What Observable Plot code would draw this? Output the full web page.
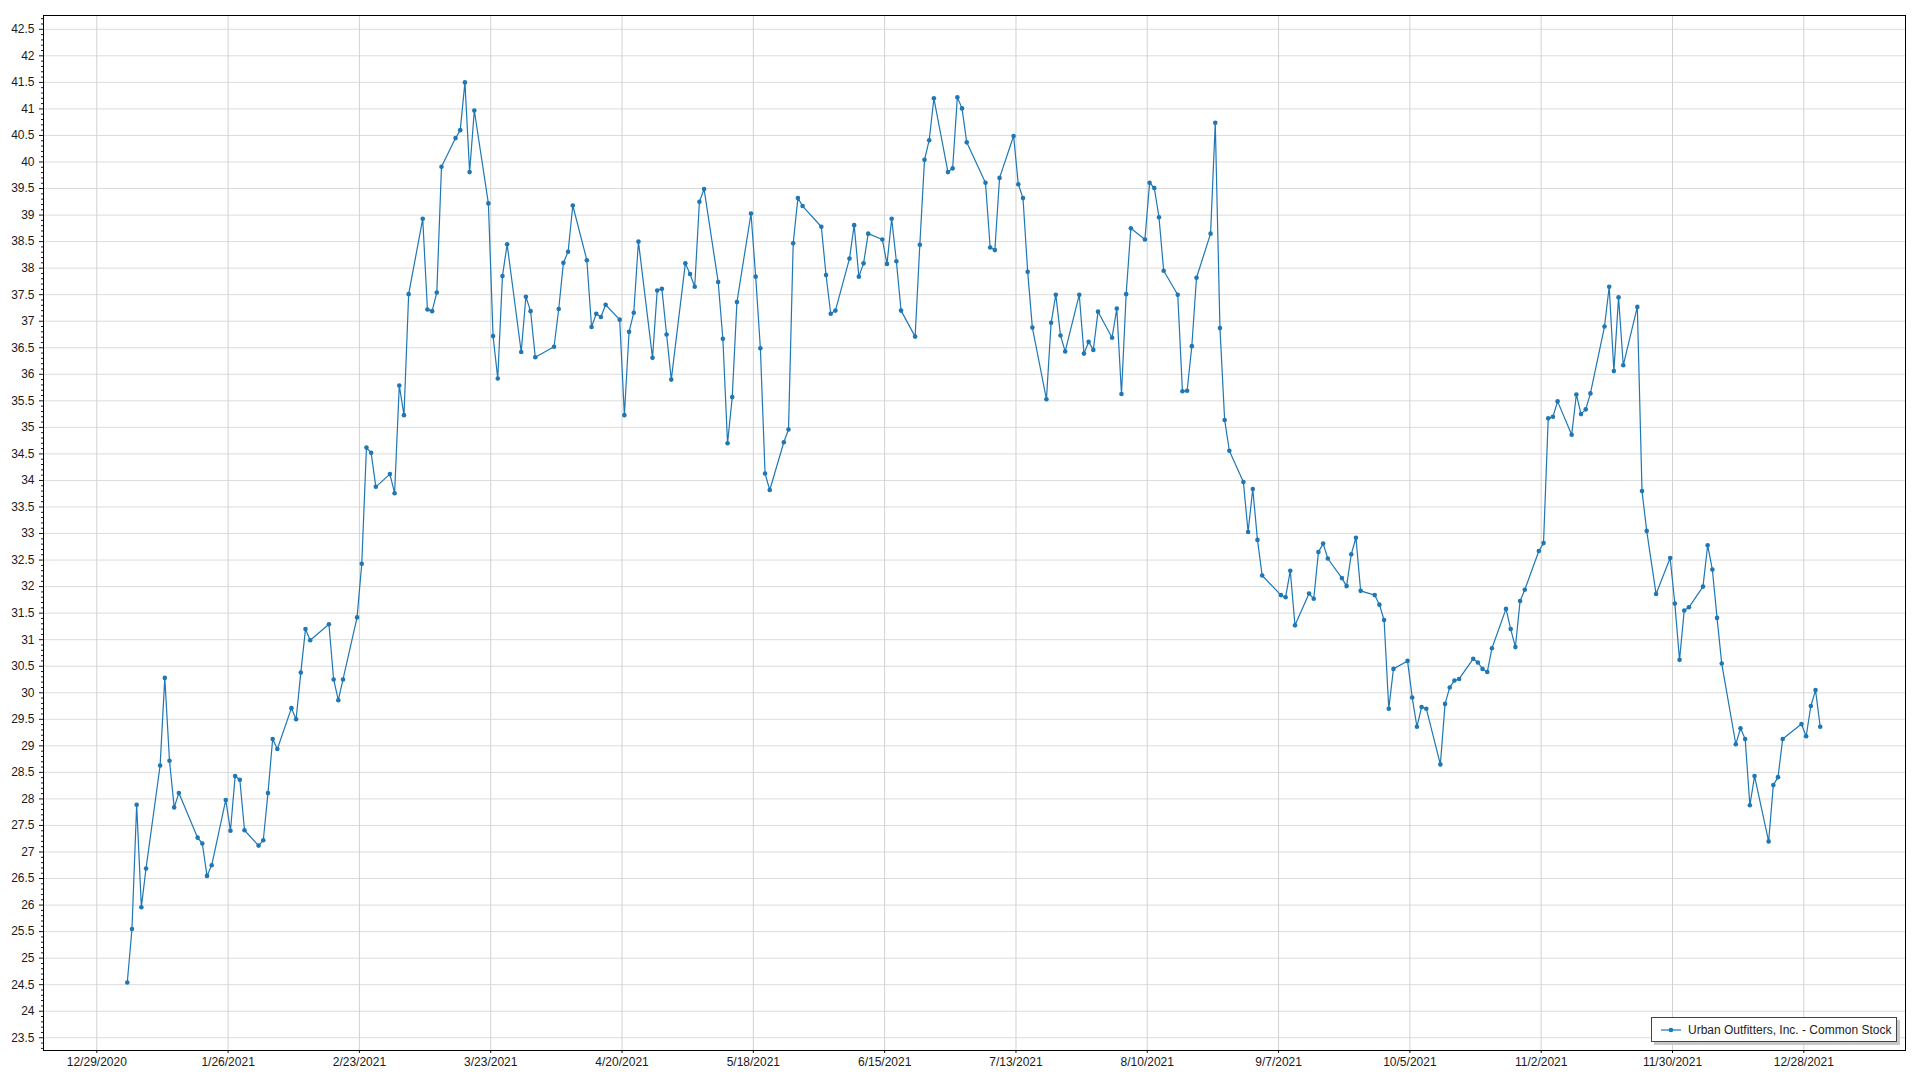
<!DOCTYPE html>
<html>
<head>
<meta charset="utf-8">
<script src="https://cdn.jsdelivr.net/npm/d3@7"></script>
<script src="https://cdn.jsdelivr.net/npm/@observablehq/plot@0.6"></script>
<style>
  html, body { margin: 0; padding: 0; background: #fff; }
  #wrap { position: relative; width: 1920px; height: 1080px; font-family: "Liberation Sans", Arial, sans-serif; }
  #legend {
    position: absolute; left: 1651px; top: 1017px; width: 246px; height: 25px;
    border: 1px solid #444; background: #fff; box-shadow: 3px 3px 0 #c8c8c8;
    display: flex; align-items: center; font-size: 12px; color: #222; box-sizing: border-box;
  }
  #legend svg { margin-left: 8px; margin-right: 6px; }
</style>
</head>
<body>
<div id="wrap"><div id="chart"></div><div id="legend"></div></div>
<script>
const seriesName = "Urban Outfitters, Inc. - Common Stock";

const xTickLabels = ["12/29/2020","1/26/2021","2/23/2021","3/23/2021","4/20/2021","5/18/2021","6/15/2021",
  "7/13/2021","8/10/2021","9/7/2021","10/5/2021","11/2/2021","11/30/2021","12/28/2021"];

const dates = [
  "2021-01-04","2021-01-05","2021-01-06","2021-01-07","2021-01-08","2021-01-11","2021-01-12","2021-01-13","2021-01-14","2021-01-15",
  "2021-01-19","2021-01-20","2021-01-21","2021-01-22","2021-01-25","2021-01-26","2021-01-27","2021-01-28","2021-01-29",
  "2021-02-01","2021-02-02","2021-02-03","2021-02-04","2021-02-05","2021-02-08","2021-02-09","2021-02-10","2021-02-11","2021-02-12",
  "2021-02-16","2021-02-17","2021-02-18","2021-02-19","2021-02-22","2021-02-23","2021-02-24","2021-02-25","2021-02-26",
  "2021-03-01","2021-03-02","2021-03-03","2021-03-04","2021-03-05","2021-03-08","2021-03-09","2021-03-10","2021-03-11","2021-03-12",
  "2021-03-15","2021-03-16","2021-03-17","2021-03-18","2021-03-19","2021-03-22","2021-03-23","2021-03-24","2021-03-25","2021-03-26",
  "2021-03-29","2021-03-30","2021-03-31",
  "2021-04-01","2021-04-05","2021-04-06","2021-04-07","2021-04-08","2021-04-09","2021-04-12","2021-04-13","2021-04-14","2021-04-15",
  "2021-04-16","2021-04-19","2021-04-20","2021-04-21","2021-04-22","2021-04-23","2021-04-26","2021-04-27","2021-04-28","2021-04-29","2021-04-30",
  "2021-05-03","2021-05-04","2021-05-05","2021-05-06","2021-05-07","2021-05-10","2021-05-11","2021-05-12","2021-05-13","2021-05-14",
  "2021-05-17","2021-05-18","2021-05-19","2021-05-20","2021-05-21","2021-05-24","2021-05-25","2021-05-26","2021-05-27","2021-05-28",
  "2021-06-01","2021-06-02","2021-06-03","2021-06-04","2021-06-07","2021-06-08","2021-06-09","2021-06-10","2021-06-11",
  "2021-06-14","2021-06-15","2021-06-16","2021-06-17","2021-06-18","2021-06-21","2021-06-22","2021-06-23","2021-06-24","2021-06-25",
  "2021-06-28","2021-06-29","2021-06-30",
  "2021-07-01","2021-07-02","2021-07-06","2021-07-07","2021-07-08","2021-07-09","2021-07-12","2021-07-13","2021-07-14","2021-07-15",
  "2021-07-16","2021-07-19","2021-07-20","2021-07-21","2021-07-22","2021-07-23","2021-07-26","2021-07-27","2021-07-28","2021-07-29","2021-07-30",
  "2021-08-02","2021-08-03","2021-08-04","2021-08-05","2021-08-06","2021-08-09","2021-08-10","2021-08-11","2021-08-12","2021-08-13",
  "2021-08-16","2021-08-17","2021-08-18","2021-08-19","2021-08-20","2021-08-23","2021-08-24","2021-08-25","2021-08-26","2021-08-27",
  "2021-08-30","2021-08-31",
  "2021-09-01","2021-09-02","2021-09-03","2021-09-07","2021-09-08","2021-09-09","2021-09-10","2021-09-13","2021-09-14","2021-09-15",
  "2021-09-16","2021-09-17","2021-09-20","2021-09-21","2021-09-22","2021-09-23","2021-09-24","2021-09-27","2021-09-28","2021-09-29","2021-09-30",
  "2021-10-01","2021-10-04","2021-10-05","2021-10-06","2021-10-07","2021-10-08","2021-10-11","2021-10-12","2021-10-13","2021-10-14",
  "2021-10-15","2021-10-18","2021-10-19","2021-10-20","2021-10-21","2021-10-22","2021-10-25","2021-10-26","2021-10-27","2021-10-28","2021-10-29",
  "2021-11-01","2021-11-02","2021-11-03","2021-11-04","2021-11-05","2021-11-08","2021-11-09","2021-11-10","2021-11-11","2021-11-12",
  "2021-11-15","2021-11-16","2021-11-17","2021-11-18","2021-11-19","2021-11-22","2021-11-23","2021-11-24","2021-11-26","2021-11-29","2021-11-30",
  "2021-12-01","2021-12-02","2021-12-03","2021-12-06","2021-12-07","2021-12-08","2021-12-09","2021-12-10","2021-12-13","2021-12-14",
  "2021-12-15","2021-12-16","2021-12-17","2021-12-20","2021-12-21","2021-12-22","2021-12-23","2021-12-27","2021-12-28","2021-12-29",
  "2021-12-30","2021-12-31"
];

const closes = [
  24.54,25.55,27.89,25.96,26.69,28.63,30.28,28.72,27.84,28.11,
  27.27,27.16,26.55,26.75,27.98,27.40,28.43,28.36,27.41,
  27.12,27.22,28.11,29.13,28.94,29.71,29.50,30.38,31.20,30.99,
  31.29,30.25,29.86,30.25,31.42,32.43,34.62,34.52,33.88,
  34.12,33.76,35.79,35.23,37.51,38.93,37.22,37.19,37.54,39.91,
  40.45,40.60,41.50,39.81,40.97,39.22,36.72,35.92,37.85,38.45,
  36.42,37.46,37.19,
  36.32,36.52,37.23,38.10,38.31,39.18,38.15,36.89,37.14,37.08,
  37.31,37.03,35.23,36.80,37.16,38.50,36.31,37.58,37.61,36.75,35.90,
  38.09,37.89,37.65,39.25,39.49,37.74,36.67,34.70,35.57,37.36,
  39.03,37.84,36.49,34.13,33.82,34.72,34.96,38.47,39.32,39.17,
  38.78,37.87,37.14,37.20,38.18,38.81,37.84,38.09,38.65,
  38.54,38.08,38.93,38.13,37.20,36.71,38.44,40.04,40.41,41.20,
  39.81,39.88,41.22,
  41.01,40.37,39.61,38.39,38.34,39.70,40.49,39.58,39.32,37.93,
  36.88,35.53,36.97,37.50,36.73,36.43,37.50,36.39,36.61,36.46,37.18,
  36.69,37.24,35.63,37.51,38.75,38.54,39.61,39.51,38.96,37.95,
  37.50,35.68,35.69,36.53,37.82,38.65,40.74,36.87,35.14,34.56,
  33.97,33.03,
  33.84,32.88,32.21,31.84,31.80,32.30,31.27,31.87,31.77,32.65,
  32.81,32.53,32.16,32.01,32.61,32.92,31.92,31.84,31.66,31.37,29.70,
  30.45,30.60,29.91,29.36,29.73,29.70,28.65,29.79,30.10,30.23,
  30.26,30.64,30.57,30.45,30.39,30.84,31.58,31.20,30.86,31.73,31.94,
  32.67,32.82,35.17,35.20,35.49,34.86,35.62,35.25,35.34,35.64,
  36.90,37.65,36.06,37.45,36.17,37.27,33.80,33.05,31.86,32.54,31.68,
  30.62,31.55,31.61,32.00,32.78,32.32,31.41,30.55,29.03,29.33,
  29.13,27.88,28.43,27.20,28.26,28.41,29.13,29.41,29.18,29.75,
  30.05,29.36
];

const DAY = 864e5;
const parseLabel = s => { const [m, d, y] = s.split("/").map(Number); return new Date(Date.UTC(y, m - 1, d)); };
const xTicks = xTickLabels.map(parseLabel);
const labelOf = new Map(xTicks.map((d, i) => [+d, xTickLabels[i]]));

// each close is drawn at the middle of its trading day
const data = dates.map((d, i) => ({ date: new Date(Date.parse(d + "T12:00:00Z")), close: closes[i] }));

const yMajor = d3.range(47, 86).map(k => k / 2);      // 23.5 .. 42.5
const yMinor = d3.range(233, 428).map(k => k / 10).filter(v => Math.abs(v * 2 - Math.round(v * 2)) > 1e-6);

const color = "#1f77b4";

const chart = Plot.plot({
  width: 1920,
  height: 1080,
  marginLeft: 43,
  marginRight: 15,
  marginTop: 15,
  marginBottom: 30,
  style: { fontFamily: "'Liberation Sans', Arial, sans-serif", fontSize: "12px", color: "#1a1a1a", background: "#fff" },
  x: { type: "utc", domain: [new Date(+xTicks[0] - 11.366 * DAY), new Date(+xTicks[xTicks.length - 1] + 21.686 * DAY)] },
  y: { domain: [23.26, 42.76] },
  marks: [
    Plot.gridY(yMajor, { stroke: "#dcdcdc", strokeOpacity: 1 }),
    Plot.gridX(xTicks, { stroke: "#d2d2d2", strokeOpacity: 1 }),
    Plot.line(data, { x: "date", y: "close", stroke: color, strokeWidth: 1.2 }),
    Plot.dot(data, { x: "date", y: "close", r: 2.3, fill: color, stroke: "none" }),
    Plot.axisY(yMinor, { tickSize: 2, tickFormat: () => "", label: null }),
    Plot.axisY(yMajor, { tickSize: 4, tickPadding: 5, tickFormat: v => String(+v.toFixed(1)), label: null, fontSize: 12 }),
    Plot.axisX(xTicks, { tickSize: 3, tickPadding: 4, tickFormat: d => labelOf.get(+d), label: null, fontSize: 12 }),
    Plot.frame({ stroke: "#000", strokeWidth: 1 })
  ]
});
document.getElementById("chart").appendChild(chart);

const legend = document.getElementById("legend");
legend.innerHTML = `<svg width="22" height="10"><line x1="1" y1="5" x2="21" y2="5" stroke="${color}" stroke-width="1.2"/><circle cx="11" cy="5" r="2.3" fill="${color}"/></svg><span></span>`;
legend.querySelector("span").textContent = seriesName;
</script>
</body>
</html>
